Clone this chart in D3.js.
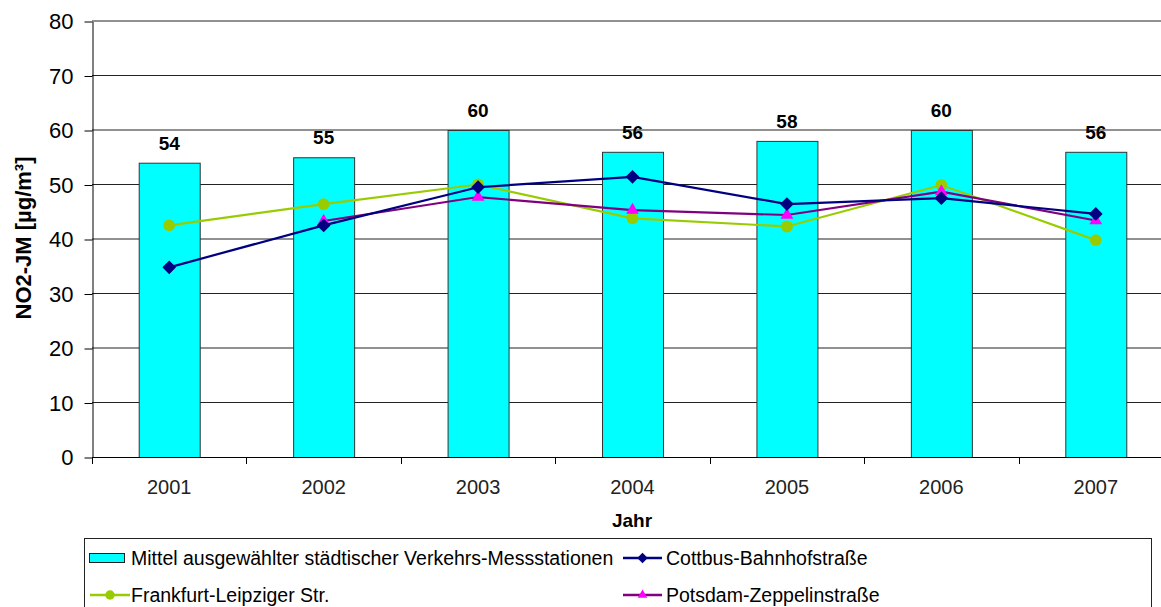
<!DOCTYPE html>
<html>
<head>
<meta charset="utf-8">
<script src="https://cdn.jsdelivr.net/npm/d3@7"></script>
<style>
  body { margin: 0; background: #fff; }
  svg { display: block; font-family: "Liberation Sans", Arial, sans-serif; }
</style>
</head>
<body>
<div id="chart"></div>
<script>
const years = ["2001", "2002", "2003", "2004", "2005", "2006", "2007"];
const mittel = [54, 55, 60, 56, 58, 60, 56];
const cottbus = [34.8, 42.5, 49.5, 51.4, 46.4, 47.5, 44.6];
const frankfurt = [42.5, 46.4, 50.0, 43.8, 42.3, 49.9, 39.8];
const potsdam = [null, 43.3, 47.7, 45.3, 44.4, 48.7, 43.4];
const yTicks = [0, 10, 20, 30, 40, 50, 60, 70, 80];

const width = 1161, height = 607;
const svg = d3.select("#chart").append("svg")
    .attr("width", width)
    .attr("height", height);

// plot area runs a little past the right edge, like the reference
const x = d3.scaleBand()
    .domain(years)
    .range([92, 1173])
    .paddingInner(0.605)
    .paddingOuter(0.3025);

const y = d3.scaleLinear()
    .domain([0, 80])
    .range([457, 21]);

// gridlines
svg.append("g")
    .selectAll("line")
    .data(yTicks.filter(d => d > 0))
    .join("line")
    .attr("x1", 92)
    .attr("x2", 1173)
    .attr("y1", d => y(d))
    .attr("y2", d => y(d))
    .attr("stroke", "#222")
    .attr("stroke-width", 1);

// bars
svg.append("g")
    .selectAll("rect")
    .data(years)
    .join("rect")
    .attr("x", d => x(d) + 0.5)
    .attr("y", (d, i) => y(mittel[i]) + 0.5)
    .attr("width", x.bandwidth())
    .attr("height", (d, i) => y(0) - y(mittel[i]))
    .attr("fill", "#00ffff")
    .attr("stroke", "#333")
    .attr("stroke-width", 1);

// bar labels
svg.append("g")
    .selectAll("text")
    .data(years)
    .join("text")
    .attr("x", d => x(d) + x.bandwidth() / 2)
    .attr("y", (d, i) => y(mittel[i]) - 13)
    .attr("text-anchor", "middle")
    .attr("font-size", 19)
    .attr("font-weight", "bold")
    .attr("fill", "#000")
    .text((d, i) => mittel[i]);

// y axis
const yAxis = svg.append("g")
    .attr("transform", "translate(92.5,0.5)")
    .call(d3.axisLeft(y).tickValues(yTicks).tickSize(8).tickPadding(11).tickSizeOuter(0));
yAxis.select(".domain").attr("stroke", "#000");
yAxis.selectAll(".tick line").attr("stroke", "#000");
yAxis.selectAll("text")
    .attr("font-size", 22)
    .attr("font-family", "Liberation Sans, Arial, sans-serif")
    .attr("fill", "#000");

// x axis: labels centred, ticks at category boundaries
const xAxis = svg.append("g")
    .attr("transform", "translate(0,457.5)")
    .call(d3.axisBottom(x).tickSize(0).tickPadding(22).tickSizeOuter(0));
xAxis.select(".domain").remove();
xAxis.selectAll("text")
    .attr("font-size", 20)
    .attr("font-family", "Liberation Sans, Arial, sans-serif")
    .attr("fill", "#222");

svg.append("line")
    .attr("x1", 92).attr("x2", 1173)
    .attr("y1", 457.5).attr("y2", 457.5)
    .attr("stroke", "#000");

svg.append("g")
    .selectAll("line")
    .data(d3.range(years.length + 1))
    .join("line")
    .attr("x1", i => Math.round(92 + i * x.step()) + 0.5)
    .attr("x2", i => Math.round(92 + i * x.step()) + 0.5)
    .attr("y1", 457)
    .attr("y2", 464)
    .attr("stroke", "#000");

// axis titles
svg.append("text")
    .attr("x", 632)
    .attr("y", 527)
    .attr("text-anchor", "middle")
    .attr("font-size", 19)
    .attr("font-weight", "bold")
    .text("Jahr");

svg.append("text")
    .attr("transform", "translate(31,238) rotate(-90)")
    .attr("text-anchor", "middle")
    .attr("font-size", 22)
    .attr("font-weight", "bold")
    .text("NO2-JM [µg/m³]");

// lines
const cx = i => x(years[i]) + x.bandwidth() / 2;
const series = [
  { name: "Cottbus-Bahnhofstraße", values: cottbus, line: "#000080", marker: "#000080", shape: d3.symbolDiamond2 },
  { name: "Frankfurt-Leipziger Str.", values: frankfurt, line: "#99cc00", marker: "#99cc00", shape: d3.symbolCircle },
  { name: "Potsdam-Zeppelinstraße", values: potsdam, line: "#800080", marker: "#ff00ff", shape: d3.symbolTriangle }
];

const lineGen = d3.line()
    .defined(d => d.v != null)
    .x(d => cx(d.i))
    .y(d => y(d.v));

const drawOrder = [series[1], series[2], series[0]];
drawOrder.forEach(s => {
  const pts = s.values.map((v, i) => ({ v, i }));
  svg.append("path")
      .datum(pts)
      .attr("d", lineGen)
      .attr("fill", "none")
      .attr("stroke", s.line)
      .attr("stroke-width", 2.2);
  const size = s.shape === d3.symbolCircle ? 110 : s.shape === d3.symbolTriangle ? 70 : 120;
  svg.append("g")
      .selectAll("path")
      .data(pts.filter(d => d.v != null))
      .join("path")
      .attr("transform", d => `translate(${cx(d.i)},${y(d.v)})`)
      .attr("d", d3.symbol(s.shape, size))
      .attr("fill", s.marker);
});

// legend
const legend = svg.append("g");
legend.append("rect")
    .attr("x", 84.5).attr("y", 538.5)
    .attr("width", 1067).attr("height", 80)
    .attr("fill", "#fff")
    .attr("stroke", "#222");

legend.append("rect")
    .attr("x", 89.5).attr("y", 553.5)
    .attr("width", 35).attr("height", 9)
    .attr("fill", "#00ffff")
    .attr("stroke", "#222");

const legendText = [
  { x: 131, y: 558, t: "Mittel ausgewählter städtischer Verkehrs-Messstationen" },
  { x: 666, y: 558, t: series[0].name },
  { x: 131, y: 595, t: series[1].name },
  { x: 666, y: 595, t: series[2].name }
];
legend.selectAll("text")
    .data(legendText)
    .join("text")
    .attr("x", d => d.x)
    .attr("y", d => d.y)
    .attr("dy", "0.35em")
    .attr("font-size", 19.5)
    .attr("fill", "#000")
    .text(d => d.t);

const legendMarks = [
  { s: series[0], x1: 623, x2: 662, y: 558 },
  { s: series[1], x1: 90, x2: 130, y: 595 },
  { s: series[2], x1: 623, x2: 662, y: 595 }
];
legendMarks.forEach(m => {
  legend.append("line")
      .attr("x1", m.x1).attr("x2", m.x2)
      .attr("y1", m.y).attr("y2", m.y)
      .attr("stroke", m.s.line)
      .attr("stroke-width", 2.5);
  const size = m.s.shape === d3.symbolCircle ? 70 : m.s.shape === d3.symbolTriangle ? 40 : 70;
  legend.append("path")
      .attr("transform", `translate(${(m.x1 + m.x2) / 2},${m.y})`)
      .attr("d", d3.symbol(m.s.shape, size))
      .attr("fill", m.s.marker);
});
</script>
</body>
</html>
